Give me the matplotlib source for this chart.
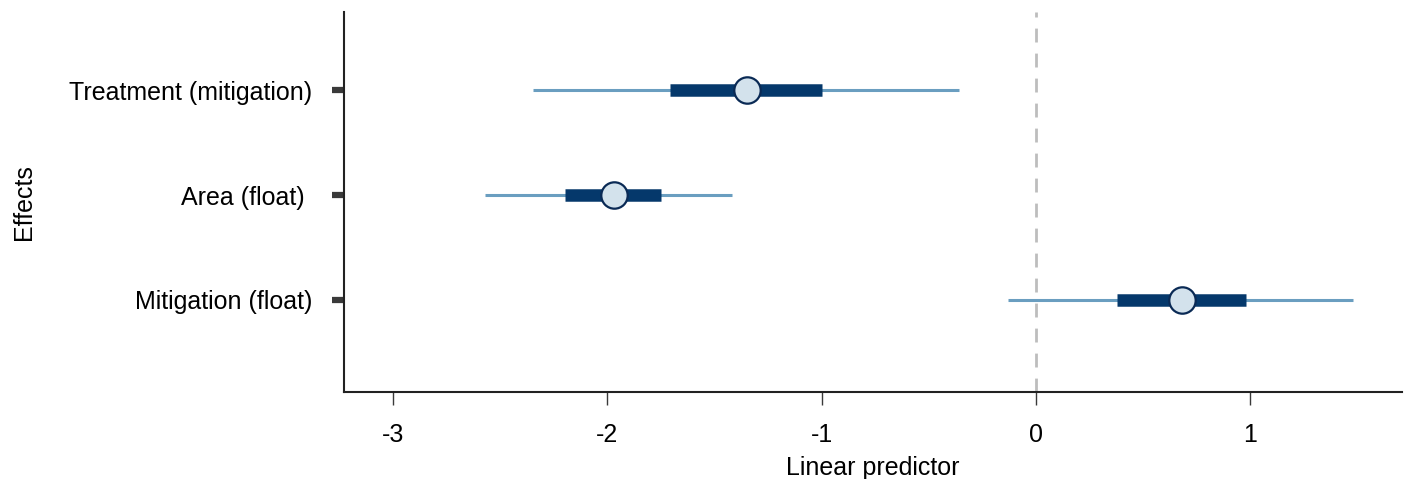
import numpy as np
import matplotlib
matplotlib.use("Agg")
import matplotlib.pyplot as plt

plt.rcParams["font.family"] = ["Liberation Sans", "DejaVu Sans"]

# data
effects = ["Treatment (mitigation)", "Area (float) ", "Mitigation (float)"]
estimate = [-1.35, -1.97, 0.68]
ci_outer_lo = [-2.35, -2.57, -0.13]
ci_outer_hi = [-0.36, -1.42, 1.48]
ci_inner_lo = [-1.71, -2.20, 0.38]
ci_inner_hi = [-1.00, -1.75, 0.98]

fig = plt.figure(figsize=(14.11, 4.79), dpi=100)
ax = fig.add_axes([0.2438, 0.1816, 0.7500, 0.7934])

y = np.arange(len(effects))

ax.axvline(0, color="#bdbdbd", lw=2, ls=(0, (5, 4)), zorder=1)
ax.hlines(y, ci_outer_lo, ci_outer_hi, color="#6a9ec0", lw=2.2, zorder=2)
ax.hlines(y, ci_inner_lo, ci_inner_hi, color="#05386b", lw=9, zorder=3)
ax.plot(estimate, y, "o", ms=19, mfc="#d3e2ec", mec="#0a2a55", mew=1.6, zorder=4)

ax.set_xlim(-3.23, 1.71)
ax.set_ylim(2.88, -0.75)
ax.set_yticks(y)
ax.set_yticklabels(effects, fontsize=18)
ax.set_xticks([-3, -2, -1, 0, 1])
ax.set_xticklabels(["-3", "-2", "-1", "0", "1"], fontsize=18)

ax.tick_params(axis="y", length=9, width=4.5, color="#3a3a3a", pad=14)
ax.tick_params(axis="x", length=9, width=1, color="#3a3a3a", pad=13)

for s in ["top", "right"]:
    ax.spines[s].set_visible(False)
for s in ["left", "bottom"]:
    ax.spines[s].set_linewidth(1.5)
    ax.spines[s].set_color("#222222")

ax.set_xlabel("Linear predictor", fontsize=18, labelpad=7)
ax.set_ylabel("Effects", fontsize=18, labelpad=24)

fig.savefig("out.png", dpi=100)
